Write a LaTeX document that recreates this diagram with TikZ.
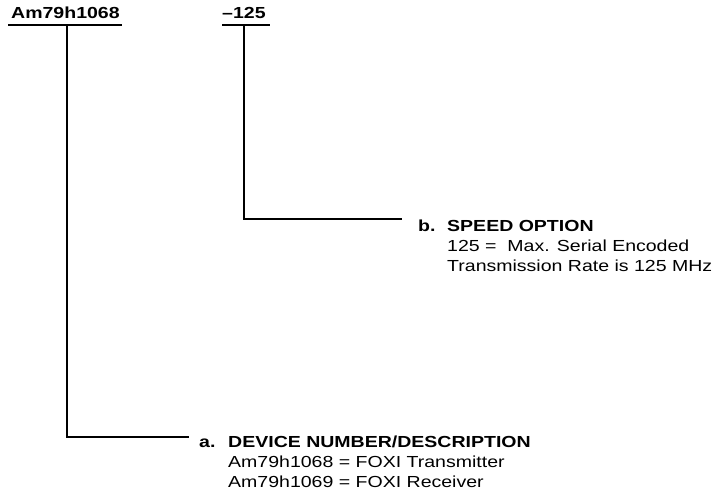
\documentclass[tikz,border=0pt]{standalone}
\usepackage{fontspec}
\setmainfont{Liberation Sans}[FakeStretch=1.22]
\begin{document}
\begin{tikzpicture}[x=1pt,y=-1pt,
  txt/.style={inner sep=0pt,anchor=base west,font=\fontsize{16}{19.5}\selectfont},
  bold/.style={txt,font=\fontsize{16}{19.5}\selectfont\bfseries},
  wire/.style={line width=1.8pt,line cap=butt}]
\useasboundingbox (0,0) rectangle (724,496);
% header
\node[bold] (pn) at (11,18) {Am79h1068};
\node[bold] (sp) at (222,18) {--125};
\coordinate (ulA1) at (8,25);
\coordinate (ulA2) at (122,25);
\coordinate (ulB1) at (222,25);
\coordinate (ulB2) at (270,25);
\draw[wire] (ulA1) -- (ulA2);
\draw[wire] (ulB1) -- (ulB2);
% branch a
\coordinate (aTop) at (67,25);
\coordinate (aEnd) at (189,437);
\draw[wire] (aTop) |- (aEnd);
\node[bold] (aLbl) at (199,447) {a.};
\node[bold] (aT1) at (228,447) {DEVICE NUMBER/DESCRIPTION};
\node[txt] (aT2) at (228,467) {Am79h1068 = FOXI Transmitter};
\node[txt] (aT3) at (228,487) {Am79h1069 = FOXI Receiver};
% branch b
\coordinate (bTop) at (244,25);
\coordinate (bEnd) at (402,219);
\draw[wire] (bTop) |- (bEnd);
\node[bold] (bLbl) at (418,231) {b.};
\node[bold] (bT1) at (447,231) {SPEED OPTION};
\node[txt] (bT2) at (447,251) {125 =\ \ Max. Serial Encoded};
\node[txt] (bT3) at (447,271) {Transmission Rate is 125 MHz};
\end{tikzpicture}
\end{document}
